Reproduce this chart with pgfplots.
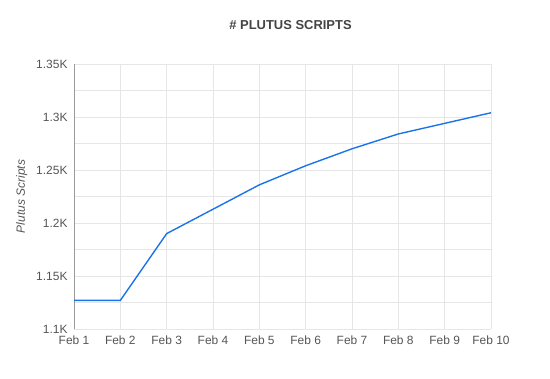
\documentclass[border=0pt]{standalone}
\usepackage{pgfplots}
\pgfplotsset{compat=1.18}
\usepackage{fontspec}
\setmainfont{Liberation Sans}
\definecolor{lineblue}{HTML}{1A73E8}
\definecolor{gridgray}{HTML}{E6E6E6}
\definecolor{txtgray}{HTML}{555555}
\begin{document}
\begin{tikzpicture}
\begin{axis}[
  name=ax,
  scale only axis,
  width=417bp, height=265bp,
  xmin=0, xmax=9, ymin=1100, ymax=1350,
  xtick={0,...,9},
  xticklabels={Feb 1,Feb 2,Feb 3,Feb 4,Feb 5,Feb 6,Feb 7,Feb 8,Feb 9,Feb 10},
  ytick={1100,1150,1200,1250,1300,1350},
  yticklabels={1.1K,1.15K,1.2K,1.25K,1.3K,1.35K},
  minor ytick={1125,1175,1225,1275,1325},
  grid=both,
  major grid style={gridgray, line width=0.8pt},
  minor grid style={gridgray, line width=0.8pt},
  axis line style={draw=none},
  tick style={draw=none},
  tick label style={font=\fontsize{12}{14}\selectfont, text=txtgray},
  xticklabel style={yshift=-3.5pt},
  yticklabel style={xshift=-3pt},
  ylabel={\itshape Plutus Scripts},
  ylabel style={font=\fontsize{12}{14}\selectfont, text=txtgray, yshift=2pt},
  clip=false,
]
\draw[gray!80, line width=1pt] (rel axis cs:0,0) -- (rel axis cs:0,1);
\addplot[lineblue, line width=1.4pt, mark=none] coordinates {
(0,1127) (1,1127) (2,1190) (3,1213) (4,1236) (5,1254) (6,1270) (7,1284) (8,1294) (9,1304)
};
\end{axis}
\node[font=\bfseries\fontsize{13}{15}\selectfont, text=txtgray!80!black] at ([xshift=8bp,yshift=39bp]ax.north) {\# PLUTUS SCRIPTS};
\path[use as bounding box] ([shift={(-74bp,-49bp)}]ax.south west) rectangle ([shift={(59bp,64bp)}]ax.north east);
\end{tikzpicture}
\end{document}
